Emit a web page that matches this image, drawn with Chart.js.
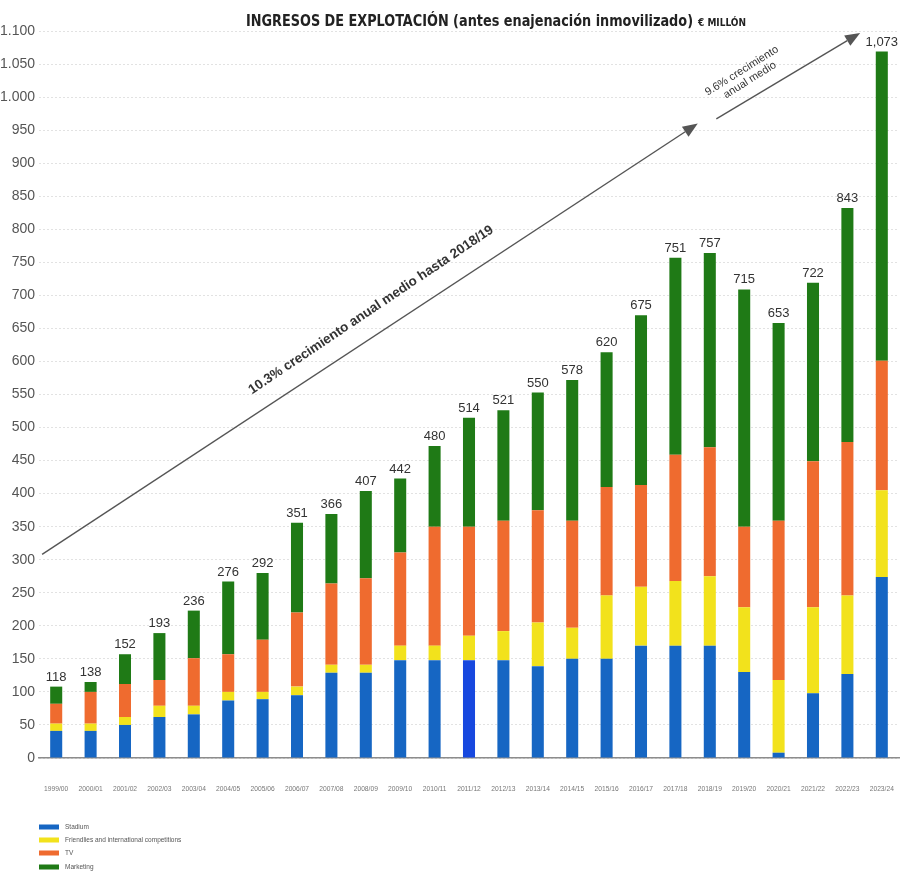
<!DOCTYPE html>
<html lang="es">
<head>
<meta charset="UTF-8" />
<title>Ingresos de explotación</title>
<script src="https://cdn.jsdelivr.net/npm/chart.js"></script>
<style>
  html, body { margin: 0; padding: 0; background: #fff; }
</style>
</head>
<body>
<canvas id="myChart" width="900" height="873"></canvas>
<script>
// seasons on the x axis
const seasons = ["1999/00", "2000/01", "2001/02", "2002/03", "2003/04", "2004/05", "2005/06",
    "2006/07", "2007/08", "2008/09", "2009/10", "2010/11", "2011/12", "2012/13", "2013/14",
    "2014/15", "2015/16", "2016/17", "2017/18", "2018/19", "2019/20", "2020/21", "2021/22",
    "2022/23", "2023/24"];

// printed totals above each bar (€ millón)
const totals = [118, 138, 152, 193, 236, 276, 292, 351, 366, 407, 442, 480, 514, 521, 550,
    578, 620, 675, 751, 757, 715, 653, 722, 843, 1073];

// stacked segments
const stadium = [41, 41, 50, 62, 66, 87, 89, 95, 129, 129, 148, 148, 148, 148, 139,
    150, 150, 170, 170, 170, 130, 8, 98, 127, 274];
const friendlies = [11, 11, 12, 17, 13, 13, 11, 13, 12, 12, 22, 22, 37, 44, 66,
    47, 96, 89, 98, 105, 98, 110, 130, 119, 131];
const tv = [30, 48, 50, 39, 72, 57, 79, 112, 123, 131, 141, 180, 165, 167, 170,
    162, 164, 154, 191, 195, 122, 241, 221, 232, 196];
const marketing = [26, 15, 45, 71, 72, 110, 101, 136, 105, 132, 112, 122, 165, 167, 178,
    213, 204, 257, 298, 294, 359, 299, 270, 354, 468];

const yTicks = { min: 0, max: 1100, step: 50 };

// growth arrows: [seasonIndex, value] start and end
const arrowLong = [[-0.41, 308], [18.65, 960]];
const arrowShort = [[19.19, 967], [23.37, 1097]];

const FONT = "'Liberation Sans', Arial, Helvetica, sans-serif";
const NARROW = "'Liberation Sans Narrow', 'DejaVu Sans Condensed', " + FONT;

const blue = "#1666c3";
const blueBright = "#1748df";

function fmtThousands(v) {
    const s = String(v);
    return v >= 1000 ? s.slice(0, s.length - 3) + "." + s.slice(-3) : s;
}

function drawArrow(ctx, x1, y1, x2, y2) {
    const ang = Math.atan2(y2 - y1, x2 - x1);
    const head = 15, half = 6;
    ctx.strokeStyle = "#555";
    ctx.fillStyle = "#555";
    ctx.lineWidth = 1.4;
    ctx.beginPath();
    ctx.moveTo(x1, y1);
    ctx.lineTo(x2 - head * Math.cos(ang), y2 - head * Math.sin(ang));
    ctx.stroke();
    ctx.beginPath();
    ctx.moveTo(x2, y2);
    ctx.lineTo(x2 - head * Math.cos(ang) + half * Math.sin(ang), y2 - head * Math.sin(ang) - half * Math.cos(ang));
    ctx.lineTo(x2 - head * Math.cos(ang) - half * Math.sin(ang), y2 - head * Math.sin(ang) + half * Math.cos(ang));
    ctx.closePath();
    ctx.fill();
}

const extras = {
    id: "extras",
    afterDatasetsDraw(chart) {
        const ctx = chart.ctx;
        const xs = chart.scales.x, ys = chart.scales.y;
        const top = chart.getDatasetMeta(3);
        ctx.save();

        // totals above bars
        ctx.font = "13px " + FONT;
        ctx.fillStyle = "#333";
        ctx.textAlign = "center";
        ctx.textBaseline = "bottom";
        top.data.forEach((bar, i) => {
            const t = totals[i] >= 1000 ? fmtThousands(totals[i]).replace(".", ",") : String(totals[i]);
            ctx.fillText(t, bar.x, bar.y - 3);
        });

        // arrows
        const p = (pt) => [xs.getPixelForValue(pt[0]), ys.getPixelForValue(pt[1])];
        const [a1, b1] = arrowLong.map(p);
        const [a2, b2] = arrowShort.map(p);
        drawArrow(ctx, a1[0], a1[1], b1[0], b1[1]);
        drawArrow(ctx, a2[0], a2[1], b2[0], b2[1]);

        // arrow captions
        const ang1 = Math.atan2(b1[1] - a1[1], b1[0] - a1[0]);
        ctx.save();
        ctx.translate(371, 310);
        ctx.rotate(ang1 - 0.01);
        ctx.font = "bold 13.5px " + FONT;
        ctx.fillStyle = "#333";
        ctx.textAlign = "center";
        ctx.textBaseline = "middle";
        ctx.fillText("10.3% crecimiento anual medio hasta 2018/19", 0, 0);
        ctx.restore();

        const ang2 = Math.atan2(b2[1] - a2[1], b2[0] - a2[0]);
        ctx.save();
        ctx.translate(745, 76);
        ctx.rotate(ang2 - 0.02);
        ctx.font = "11px " + FONT;
        ctx.fillStyle = "#333";
        ctx.textAlign = "center";
        ctx.textBaseline = "middle";
        ctx.fillText("9.6% crecimiento", 0, -6);
        ctx.fillText("anual medio", 2, 6);
        ctx.restore();

        // title
        ctx.textAlign = "left";
        ctx.textBaseline = "alphabetic";
        ctx.fillStyle = "#222";
        ctx.font = "bold 15px " + NARROW;
        const title = "INGRESOS DE EXPLOTACIÓN (antes enajenación inmovilizado)";
        const w = ctx.measureText(title).width;
        ctx.save();
        ctx.translate(246, 26);
        ctx.scale(447 / w, 1);
        ctx.fillText(title, 0, 0);
        ctx.restore();
        ctx.font = "bold 10px " + NARROW;
        ctx.fillText("€ MILLÓN", 698, 26);

        // legend
        const items = chart.data.datasets;
        ctx.font = "6.5px " + FONT;
        ctx.textBaseline = "middle";
        const ly = [827, 840, 853, 867];
        items.forEach((ds, i) => {
            ctx.fillStyle = ds.legendColor;
            ctx.fillRect(39, ly[i] - 2.5, 20, 5);
            ctx.fillStyle = "#555";
            ctx.fillText(ds.label, 65, ly[i]);
        });

        ctx.restore();
    }
};

const data = {
    labels: seasons,
    datasets: [
        {
            label: "Stadium",
            data: stadium,
            backgroundColor: seasons.map((s) => (s === "2011/12" ? blueBright : blue)),
            legendColor: blue,
        },
        {
            label: "Friendlies and international competitions",
            data: friendlies,
            backgroundColor: "#f2e21c",
            legendColor: "#f2e21c",
        },
        {
            label: "TV",
            data: tv,
            backgroundColor: "#ef6b2f",
            legendColor: "#ef6b2f",
        },
        {
            label: "Marketing",
            data: marketing,
            backgroundColor: "#1f7a16",
            legendColor: "#1f7a16",
        },
    ],
};

const config = {
    type: "bar",
    data: data,
    options: {
        responsive: false,
        animation: false,
        datasets: { bar: { categoryPercentage: 1, barPercentage: 0.35 } },
        layout: { padding: { top: 31, right: 1, bottom: 0, left: 0 } },
        plugins: {
            legend: { display: false },
            tooltip: { enabled: false },
        },
        scales: {
            x: {
                stacked: true,
                // invisible tick marks push the labels down
                grid: { display: true, drawOnChartArea: false, drawTicks: true, tickLength: 27, tickColor: "rgba(0,0,0,0)" },
                border: { display: true, color: "#8c8c8c", width: 1.5 },
                ticks: {
                    font: { size: 6.7, family: FONT },
                    color: "#777",
                    padding: 0,
                    maxRotation: 0,
                    autoSkip: false,
                },
                afterFit(scale) {
                    scale.height = 115;
                },
            },
            y: {
                stacked: true,
                min: yTicks.min,
                max: yTicks.max,
                grid: { color: "#e2e2e2", drawTicks: false, lineWidth: 1 },
                border: { display: false, dash: [2, 2] },
                ticks: {
                    stepSize: yTicks.step,
                    padding: 4,
                    font: { size: 14, family: FONT },
                    color: "#555",
                    callback: (v) => fmtThousands(v),
                },
                afterFit(scale) {
                    scale.width = 39;
                },
            },
        },
    },
    plugins: [extras],
};

document.addEventListener("DOMContentLoaded", function () {
    const ctx = document.getElementById("myChart").getContext("2d");
    new Chart(ctx, config);
});
</script>
</body>
</html>
